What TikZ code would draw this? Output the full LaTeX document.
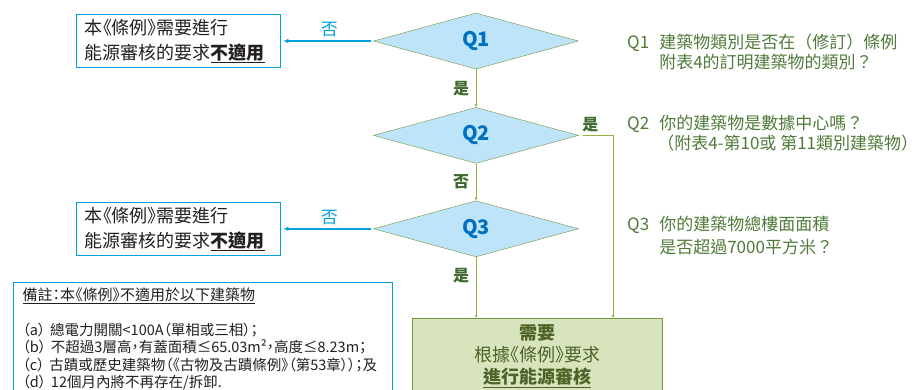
\documentclass[tikz,border=0pt]{standalone}
\usepackage{fontspec}
\setmainfont{Noto Sans CJK TC}[RawFeature=+palt]
\newfontfamily\widecjk{Noto Sans CJK TC}
\usetikzlibrary{shapes.geometric,arrows.meta,positioning}
\definecolor{qblue}{RGB}{0,112,192}
\definecolor{diafill}{RGB}{189,228,248}
\definecolor{diaedge}{RGB}{119,147,60}
\definecolor{flowgreen}{RGB}{146,182,58}
\definecolor{skipblue}{RGB}{0,160,225}
\definecolor{labelgreen}{RGB}{62,107,47}
\definecolor{notegreen}{RGB}{79,122,56}
\definecolor{auditfill}{RGB}{215,228,189}
\definecolor{audittext}{RGB}{79,98,40}
\definecolor{boxtext}{RGB}{35,31,32}

\tikzset{
  question/.style={draw=diaedge, fill=diafill, diamond, aspect=3.66, minimum width=205pt, minimum height=56pt, inner sep=0pt, text=qblue, font=\fontsize{20}{24}\selectfont\bfseries},
  skipbox/.style={draw=skipblue, line width=1.3pt, rectangle, text width=188pt, inner xsep=8pt, minimum height=53pt, align=left, text=boxtext, font=\fontsize{18}{25}\selectfont},
  auditbox/.style={draw=diaedge, fill=auditfill, line width=0.8pt, rectangle, text width=236pt, inner xsep=7pt, minimum height=76pt, align=center, text=audittext, font=\fontsize{18}{22}\selectfont},
  notebox/.style={draw=skipblue, line width=1.3pt, rectangle, text width=361pt, inner xsep=9pt, inner ysep=5pt, align=left, text=boxtext, font=\fontsize{14.5}{17.5}\selectfont},
  qtext/.style={anchor=west, inner sep=0pt, align=left, text=notegreen, font=\widecjk\fontsize{17}{20}\selectfont},
  flow/.style={draw=flowgreen, line width=0.9pt, -{Latex[length=3pt,width=3pt]}},
  skiparrow/.style={draw=skipblue, line width=1.6pt, -{Latex[length=5pt,width=4.5pt]}, shorten <=2pt, shorten >=2pt},
  yesno/.style={text=labelgreen, font=\fontsize{16}{20}\selectfont\bfseries},
  skiplabel/.style={text=skipblue, font=\fontsize{17}{20}\selectfont}
}

\begin{document}
\begin{tikzpicture}[x=1pt, y=-1pt]
  \useasboundingbox (0,0) rectangle (917,389);
  \clip (0,0) rectangle (917,389);

  % questions
  \node[question] (q1) at (476,41) {Q1};
  \node[question, below=38pt of q1] (q2) {Q2};
  \node[question, below=37pt of q2] (q3) {Q3};

  % not applicable
  \node[skipbox, left=92pt of q1] (skip1) {本《條例》需要進行\\能源審核的要求\underline{\textbf{不適用}}};
  \node[skipbox, left=92pt of q3] (skip2) {本《條例》需要進行\\能源審核的要求\underline{\textbf{不適用}}};

  % audit required
  \node[auditbox, anchor=north west] (audit) at (412,318) {\textbf{需要}\\根據《條例》要求\\\textbf{\underline{進行能源審核}}};

  % remarks
  \node[notebox, anchor=north west] (note) at (13,282) {{\fontsize{15}{17.5}\selectfont\underline{備註：本《條例》不適用於以下建築物}}\\[17.5pt]
    （a） 總電力開關<100A（單相或三相）；\\
    （b） 不超過3層高，有蓋面積≤65.03m²，高度≤8.23m；\\
    （c） 古蹟或歷史建築物（《古物及古蹟條例》（第53章））；及\\
    （d） 12個月內將不再存在/拆卸.\\~};

  % question texts
  \node[qtext] (q1text) at (627,52) {Q1\hspace{10pt}建築物類別是否在（修訂）條例\\\hphantom{Q1}\hspace{10pt}附表4的訂明建築物的類別？};
  \node[qtext] (q2text) at (627,133) {Q2\hspace{10pt}你的建築物是數據中心嗎？\\\hphantom{Q2}\hspace{8pt}（附表4-第10或 第11類別建築物）};
  \node[qtext] (q3text) at (627,235) {Q3\hspace{10pt}你的建築物總樓面面積\\[3pt]\hphantom{Q3}\hspace{10pt}是否超過7000平方米？};

  % connectors
  \draw[skiparrow] (q1.west) -- node[above, skiplabel, xshift=2pt] {否} (skip1.east);
  \draw[skiparrow] (q3.west) -- node[above, skiplabel, xshift=2pt] {否} (skip2.east);
  \draw[flow] (q1.south) -- node[yesno, left, xshift=-3pt] {是} (q2.north);
  \draw[flow] (q2.south) -- node[yesno, left, xshift=-3pt] {否} (q3.north);
  \draw[flow] (q3.south) -- node[yesno, left, xshift=-3pt, pos=0.3] {是} (q3.south |- audit.north);
  \draw[flow, shorten <=4pt] (q2.east) -| node[yesno, above, pos=0.17] {是} ([xshift=201pt]audit.north west);
\end{tikzpicture}
\end{document}
